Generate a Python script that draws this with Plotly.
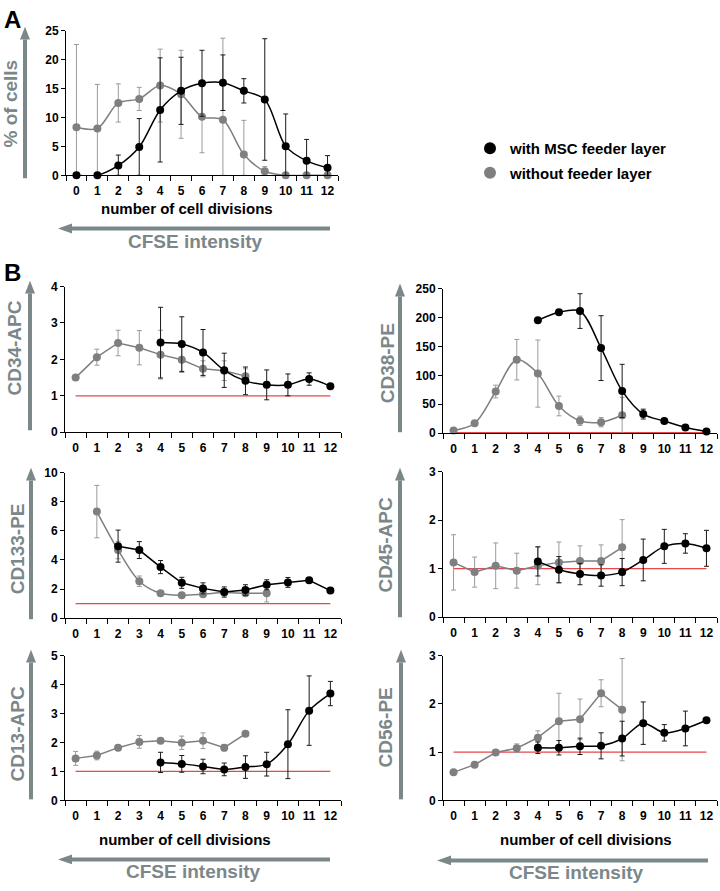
import plotly.graph_objects as go

W, H = 720, 891
cats = [str(i) for i in range(13)]
N = None

# ---------------- Panel A: % of cells ----------------
A_with = [0, 0, 1.7, 4.9, 11.3, 14.6, 15.9, 16.0, 14.6, 13.1, 5.0, 2.5, 1.3]
A_with_err = [N, N, 1.8, 4.9, 9.0, 5.8, 5.7, 4.8, 2.1, 10.5, 5.6, 3.7, 2.1]
A_without = [8.3, 8.1, 12.5, 13.2, 15.5, 14.0, 10.1, 9.6, 3.6, 0.7, 0, 0, 0]
A_without_err = [14.3, 7.6, 3.3, 2.0, 6.3, 7.6, 6.2, 14.1, 5.9, 0.8, N, N, N]

# ---------------- Panel B ----------------
CD34_with = [N, N, N, N, 2.46, 2.42, 2.19, 1.70, 1.41, 1.30, 1.30, 1.46, 1.26]
CD34_with_err = [N, N, N, N, 0.97, 0.75, 0.63, 0.47, 0.38, 0.41, 0.30, 0.17, N]
CD34_without = [1.50, 2.06, 2.45, 2.32, 2.13, 1.99, 1.74, 1.69, 1.54, N, N, N, N]
CD34_without_err = [N, 0.22, 0.35, 0.47, 0.67, 0.35, 0.22, 0.27, 0.2, N, N, N, N]

CD38_with = [N, N, N, N, 195, 209, 211, 147, 73, 33, 21, 10, 3]
CD38_with_err = [N, N, N, N, N, N, 30, 56, 46, 8.5, N, N, N]
CD38_without = [4.5, 17, 72, 127, 103, 47, 21.5, 19, 31, N, N, N, N]
CD38_without_err = [N, N, 11, 35, 58, 17, 8, 8, 31, N, N, N, N]

CD133_with = [N, N, 4.95, 4.68, 3.51, 2.43, 2.05, 1.80, 1.94, 2.30, 2.46, 2.60, 1.90]
CD133_with_err = [N, N, 1.1, 0.58, 0.45, 0.38, 0.38, 0.35, 0.36, 0.34, 0.34, 0.08, N]
CD133_without = [N, 7.32, 4.68, 2.54, 1.71, 1.58, 1.65, 1.76, 1.72, 1.72, N, N, N]
CD133_without_err = [N, 1.8, 0.6, 0.36, 0.1, N, N, N, N, 0.6, N, N, N]

CD45_with = [N, N, N, N, 1.15, 0.98, 0.89, 0.86, 0.93, 1.18, 1.46, 1.52, 1.42]
CD45_with_err = [N, N, N, N, 0.3, 0.27, 0.22, 0.22, 0.28, 0.43, 0.35, 0.2, 0.37]
CD45_without = [1.13, 0.93, 1.06, 0.96, 1.06, 1.13, 1.16, 1.16, 1.44, N, N, N, N]
CD45_without_err = [0.57, 0.31, 0.47, 0.36, 0.39, 0.42, 0.31, 0.33, 0.57, N, N, N, N]

CD13_with = [N, N, N, N, 1.31, 1.26, 1.17, 1.07, 1.15, 1.25, 1.94, 3.10, 3.69]
CD13_with_err = [N, N, N, N, 0.35, 0.29, 0.25, 0.22, 0.39, 0.41, 1.19, 1.2, 0.42]
CD13_without = [1.45, 1.55, 1.82, 2.02, 2.06, 1.99, 2.06, 1.82, 2.30, N, N, N, N]
CD13_without_err = [0.24, 0.15, N, 0.22, 0.05, 0.23, 0.27, 0.11, N, N, N, N, N]

CD56_with = [N, N, N, N, 1.09, 1.09, 1.12, 1.13, 1.28, 1.60, 1.40, 1.49, 1.66]
CD56_with_err = [N, N, N, N, 0.12, 0.15, 0.17, 0.27, 0.36, 0.44, 0.17, 0.36, N]
CD56_without = [0.58, 0.74, 0.99, 1.08, 1.30, 1.64, 1.68, 2.22, 1.88, N, N, N, N]
CD56_without_err = [N, N, N, 0.09, 0.14, 0.58, 0.42, 0.28, 1.06, N, N, N, N]

reference_level = 1

BLACK = "#000000"
GREY = "#7f7f7f"
GREY_ERR = "#9a9a9a"
ARROW = "#7b8789"
FONT = "Liberation Sans"


def px(x):
    return x / W


def py(y):
    return 1 - y / H


fig = go.Figure()


def minus(vals, errs):
    out = []
    for v, e in zip(vals, errs):
        if v is None or e is None:
            out.append(e)
        else:
            out.append(min(e, v))
    return out


def add_series(k, vals, errs, color, ecolor, shape):
    xa = "x" if k == 1 else f"x{k}"
    ya = "y" if k == 1 else f"y{k}"
    fig.add_trace(go.Scatter(
        x=cats, y=vals, xaxis=xa, yaxis=ya, mode="lines+markers",
        line=dict(color=color, width=1.5, shape=shape, smoothing=0.9),
        marker=dict(color=color, size=8),
        error_y=dict(type="data", array=errs, arrayminus=minus(vals, errs),
                     color=ecolor, thickness=1, width=2.5, symmetric=False),
        showlegend=False, cliponaxis=False, hoverinfo="x+y"))


def add_ref(k):
    xa = f"x{k}"
    ya = f"y{k}"
    fig.add_trace(go.Scatter(
        x=cats, y=[reference_level] * len(cats), xaxis=xa, yaxis=ya,
        mode="lines", line=dict(color="#e8474a", width=1.3),
        showlegend=False, hoverinfo="skip"))


panels = [
    # k, xdom(px), ydom(px top,bottom), yrange, dtick, with, with_err, without, without_err, with_shape, without_shape, ref
    (1, (66, 338), (24, 171), (0, 25), 5, A_with, A_with_err, A_without, A_without_err, "spline", "spline", False),
    (2, (65, 341), (284, 432), (0, 4), 1, CD34_with, CD34_with_err, CD34_without, CD34_without_err, "spline", "linear", True),
    (3, (443, 717), (286, 433), (0, 250), 50, CD38_with, CD38_with_err, CD38_without, CD38_without_err, "spline", "spline", True),
    (4, (65, 341), (473, 621), (0, 10), 2, CD133_with, CD133_with_err, CD133_without, CD133_without_err, "linear", "spline", True),
    (5, (443, 717), (472, 620), (0, 3), 1, CD45_with, CD45_with_err, CD45_without, CD45_without_err, "spline", "linear", True),
    (6, (65, 341), (659, 806), (0, 5), 1, CD13_with, CD13_with_err, CD13_without, CD13_without_err, "spline", "linear", True),
    (7, (443, 717), (659, 806), (0, 3), 1, CD56_with, CD56_with_err, CD56_without, CD56_without_err, "spline", "linear", True),
]

tickfont = dict(family=FONT, size=12, color="black", weight="bold")

for (k, xd, yd, yr, dt, wv, we, wov, woe, ws, wos, ref) in panels:
    if ref:
        add_ref(k)
    add_series(k, wov, woe, GREY, GREY_ERR, wos)
    add_series(k, wv, we, BLACK, "#1a1a1a", ws)
    xname = "xaxis" if k == 1 else f"xaxis{k}"
    yname = "yaxis" if k == 1 else f"yaxis{k}"
    fig.update_layout(**{
        xname: dict(domain=[px(xd[0]), px(xd[1])], anchor="y" if k == 1 else f"y{k}",
                    type="category", categoryorder="array", categoryarray=cats,
                    range=[-0.5, 12.5], tickson="boundaries", ticks="outside",
                    ticklen=5, tickwidth=1, tickcolor="black", showline=True,
                    linecolor="black", linewidth=1, showgrid=False, zeroline=False,
                    tickfont=tickfont, tickangle=0, ticklabelstandoff=4,
                    fixedrange=True),
        yname: dict(domain=[py(yd[1]), py(yd[0])], anchor="x" if k == 1 else f"x{k}",
                    range=list(yr), dtick=dt, tick0=0, ticks="outside", ticklen=4,
                    tickwidth=1, tickcolor="black", showline=True, linecolor="black",
                    linewidth=1, showgrid=False, zeroline=False, tickfont=tickfont,
                    fixedrange=True),
    })

# legend entries (marker only)
fig.add_trace(go.Scatter(x=[None], y=[None], mode="markers", name="with MSC feeder layer",
                         legendgroup="a", marker=dict(color=BLACK, size=9), showlegend=True))
fig.add_trace(go.Scatter(x=[None], y=[None], mode="markers", name="without feeder layer",
                         legendgroup="b", marker=dict(color=GREY, size=9), showlegend=True))

annotations = []
shapes = []


def text(x, y, s, size, color="black", bold=True, angle=0):
    annotations.append(dict(x=px(x), y=py(y), xref="paper", yref="paper", text=s,
                            showarrow=False, textangle=angle, xanchor="center",
                            yanchor="middle",
                            font=dict(family=FONT, size=size, color=color,
                                      weight="bold" if bold else "normal")))


def v_arrow(x, y_bottom, y_tip):
    base = y_tip + 13
    shapes.append(dict(type="line", xref="paper", yref="paper", x0=px(x), x1=px(x),
                       y0=py(y_bottom), y1=py(base), line=dict(color=ARROW, width=4)))
    shapes.append(dict(type="path", xref="paper", yref="paper",
                       path=f"M {px(x-5)} {py(base)} L {px(x+5)} {py(base)} L {px(x)} {py(y_tip)} Z",
                       fillcolor=ARROW, line=dict(width=0)))


def h_arrow(y, x_right, x_tip):
    base = x_tip + 14
    shapes.append(dict(type="line", xref="paper", yref="paper", x0=px(x_right), x1=px(base),
                       y0=py(y), y1=py(y), line=dict(color=ARROW, width=4)))
    shapes.append(dict(type="path", xref="paper", yref="paper",
                       path=f"M {px(base)} {py(y-5)} L {px(base)} {py(y+5)} L {px(x_tip)} {py(y)} Z",
                       fillcolor=ARROW, line=dict(width=0)))


# Panel labels
text(12, 13, "A", 24)
text(12, 270, "B", 24)

# Panel A
text(10, 98, "% of cells", 19, ARROW, angle=-90)
v_arrow(25, 174, 20)
text(187, 205, "number of cell divisions", 15)
h_arrow(225, 330, 58)
text(195, 238, "CFSE intensity", 19, ARROW)

# Panel B y titles and arrows
text(15, 347, "CD34-APC", 19, ARROW, angle=-90)
v_arrow(30, 430, 278)
text(387, 362, "CD38-PE", 19, ARROW, angle=-90)
v_arrow(400, 432, 281)
text(17, 551, "CD133-PE", 19, ARROW, angle=-90)
v_arrow(31, 622, 468)
text(385, 547, "CD45-APC", 19, ARROW, angle=-90)
v_arrow(400, 620, 468)
text(17, 739, "CD13-APC", 19, ARROW, angle=-90)
v_arrow(31, 805, 653)
text(385, 732, "CD56-PE", 19, ARROW, angle=-90)
v_arrow(401, 805, 653)

# bottom x titles
text(185, 846, "number of cell divisions", 15)
h_arrow(866, 330, 58)
text(193, 878, "CFSE intensity", 19, ARROW)
text(586, 846, "number of cell divisions", 15)
h_arrow(867, 708, 437)
text(576, 879, "CFSE intensity", 19, ARROW)

fig.update_layout(
    width=W, height=H, margin=dict(l=0, r=0, t=0, b=0),
    paper_bgcolor="white", plot_bgcolor="white",
    annotations=annotations, shapes=shapes,
    legend=dict(x=px(470), y=py(127), xanchor="left", yanchor="top",
                font=dict(family=FONT, size=15, color="black", weight="bold"),
                bgcolor="rgba(0,0,0,0)", tracegroupgap=2, itemsizing="constant"),
    font=dict(family=FONT),
)

fig.write_html("out.html", config={"displayModeBar": False},
               post_script="document.body.style.margin='0';document.body.style.overflow='hidden';")
